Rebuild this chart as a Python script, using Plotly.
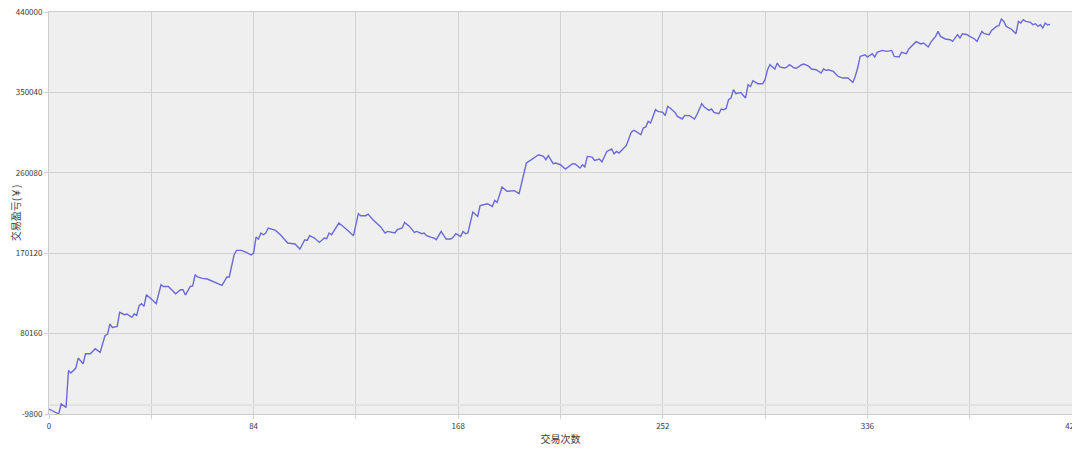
import plotly.graph_objects as go

# trade number / cumulative P&L
trade_no = [
    0, 4, 5, 7, 8, 9, 11, 12, 14, 15, 17, 19, 21, 23, 24, 25, 26, 28, 29, 31,
    32, 34, 35, 36, 37, 38, 39, 40, 42, 44, 46, 47, 49, 50, 52, 54, 55, 56, 58, 59,
    60, 61, 63, 65, 67, 68, 71, 72, 73, 74, 76, 77, 79, 81, 83, 84, 85, 86, 87, 88,
    89, 90, 93, 95, 98, 101, 103, 105, 106, 107, 109, 111, 113, 114, 115, 116, 119, 122, 124, 125,
    127, 128, 130, 131, 133, 136, 138, 139, 142, 143, 145, 146, 148, 150, 151, 153, 154, 155, 157, 158,
    159, 160, 161, 163, 165, 166, 167, 169, 170, 171, 172, 174, 176, 177, 180, 182, 183, 184, 186, 188,
    191, 193, 194, 196, 197, 199, 201, 203, 204, 205, 207, 208, 210, 212, 215, 216, 218, 219, 220, 221,
    223, 224, 226, 227, 229, 231, 232, 233, 234, 236, 237, 239, 240, 241, 243, 244, 245, 246, 247, 249,
    250, 252, 253, 254, 255, 257, 258, 260, 261, 263, 265, 266, 268, 269, 271, 272, 273, 275, 276, 277,
    278, 279, 280, 281, 282, 283, 284, 286, 287, 288, 289, 291, 293, 294, 295, 296, 298, 299, 300, 302,
    303, 304, 306, 307, 309, 310, 312, 313, 315, 317, 318, 319, 320, 322, 324, 326, 328, 330, 331, 332,
    333, 335, 336, 338, 339, 340, 342, 344, 346, 347, 349, 350, 352, 353, 355, 356, 358, 359, 361, 362,
    364, 365, 366, 368, 370, 371, 373, 374, 375, 377, 378, 380, 381, 382, 383, 384, 386, 387, 389, 390,
    391, 392, 393, 395, 396, 397, 398, 399, 400, 401, 403, 404, 405, 406, 407, 408, 409, 410, 411,
]
pnl = [
    -4200, -9800, 1350, -2450, 38950, 36000, 41600, 52800, 46400, 57600, 57600, 63200, 59100, 78100, 79300, 90900, 87100, 88200, 103900, 101300,
    102100, 98300, 102100, 100600, 111400, 113600, 110600, 123700, 118800, 113600, 134800, 132900, 132900, 130000, 124800, 129300, 129300, 123300, 132900, 133500,
    146000, 143500, 141900, 141200, 138600, 137500, 134100, 138600, 143500, 143500, 168400, 173300, 173300, 171000, 168100, 170300, 188200, 186000, 192700, 190800,
    192700, 198300, 195600, 190800, 181500, 180400, 174800, 185200, 184400, 189700, 187100, 182200, 187100, 186300, 192700, 190800, 203900, 197200, 191900, 189700,
    214300, 212100, 212100, 213800, 207600, 200100, 192700, 194500, 192700, 196400, 198300, 204600, 200100, 193400, 194500, 191900, 192700, 189700, 187800, 187100,
    185200, 190000, 194500, 186000, 186000, 188200, 191900, 188900, 194500, 191900, 192700, 216200, 211300, 223300, 225500, 222500, 229200, 227000, 244200, 239400,
    240100, 236700, 247900, 271000, 272800, 276600, 280300, 278400, 274700, 279200, 270300, 271000, 269100, 264300, 270300, 270000, 265400, 269100, 266600, 278400,
    277700, 273900, 275500, 272200, 284000, 286700, 281400, 284000, 282200, 287800, 290400, 305300, 307500, 306400, 302700, 310200, 311300, 317600, 315800, 330700,
    328800, 327700, 324000, 334400, 332600, 327700, 323200, 320300, 324300, 324000, 320300, 325100, 337400, 333700, 329900, 331500, 327700, 326200, 331500, 330700,
    332100, 341900, 343800, 353100, 348600, 349400, 350000, 343800, 358600, 356700, 363100, 359800, 359800, 364200, 375400, 381000, 376200, 382900, 378500, 377300,
    378500, 381000, 377300, 377300, 381000, 381800, 379100, 376200, 375400, 371700, 376200, 374700, 375400, 373500, 367900, 366100, 366100, 361200, 367900, 377300,
    390300, 392200, 389600, 393300, 389600, 394800, 397000, 395900, 397000, 390300, 389600, 394800, 393300, 398600, 404200, 406800, 404200, 405300, 400800, 406000,
    412700, 418300, 412700, 409800, 409000, 407100, 414600, 410900, 415700, 414600, 412700, 409800, 407100, 412700, 418300, 415700, 414600, 419400, 423900, 424700,
    432200, 429500, 423900, 421000, 418300, 415700, 429500, 427700, 431400, 429500, 428400, 425800, 426900, 423900, 425800, 422100, 427700, 425500, 426100,
]

x_ticks = list(range(0, 421, 42))
x_labels = [str(v) if v % 84 == 0 else "" for v in x_ticks]
y_ticks = [-9800, 80160, 170120, 260080, 350040, 440000]

font_family = "Noto Sans CJK SC, Noto Sans, sans-serif"

fig = go.Figure(
    go.Scatter(
        x=trade_no,
        y=pnl,
        mode="lines",
        line=dict(color="#6a6ad8", width=1.4),
        hoverinfo="x+y",
    )
)

# page body has an 8px margin, so margins are shifted by that amount
fig.update_layout(
    width=1080,
    height=453,
    margin=dict(l=41, r=16, t=4, b=47),
    paper_bgcolor="white",
    plot_bgcolor="#efefef",
    showlegend=False,
    font=dict(family=font_family, size=8, color="#3a3a3a"),
)

fig.update_xaxes(
    range=[0, 420],
    tickvals=x_ticks,
    ticktext=x_labels,
    tickangle=0,
    automargin=False,
    ticklabeloverflow="allow",
    showgrid=True,
    gridcolor="#d2d2d2",
    gridwidth=1,
    ticks="outside",
    ticklen=4,
    tickcolor="#d2d2d2",
    showline=True,
    linecolor="#cccccc",
    mirror=True,
    zeroline=False,
    title=dict(text="交易次数", font=dict(size=10, color="#3a3a3a"), standoff=6),
)

fig.update_yaxes(
    range=[-9800, 440000],
    tickvals=y_ticks,
    ticktext=[str(v) for v in y_ticks],
    automargin=False,
    ticklabeloverflow="allow",
    showgrid=True,
    gridcolor="#d2d2d2",
    gridwidth=1,
    ticks="outside",
    ticklen=4,
    tickcolor="#d2d2d2",
    showline=True,
    linecolor="#cccccc",
    mirror=True,
    zeroline=True,
    zerolinecolor="#e2e2e2",
    zerolinewidth=2,
    title=dict(text="交易盈亏(￥)", font=dict(size=10, color="#3a3a3a"), standoff=6),
)

fig.write_html("out.html")
